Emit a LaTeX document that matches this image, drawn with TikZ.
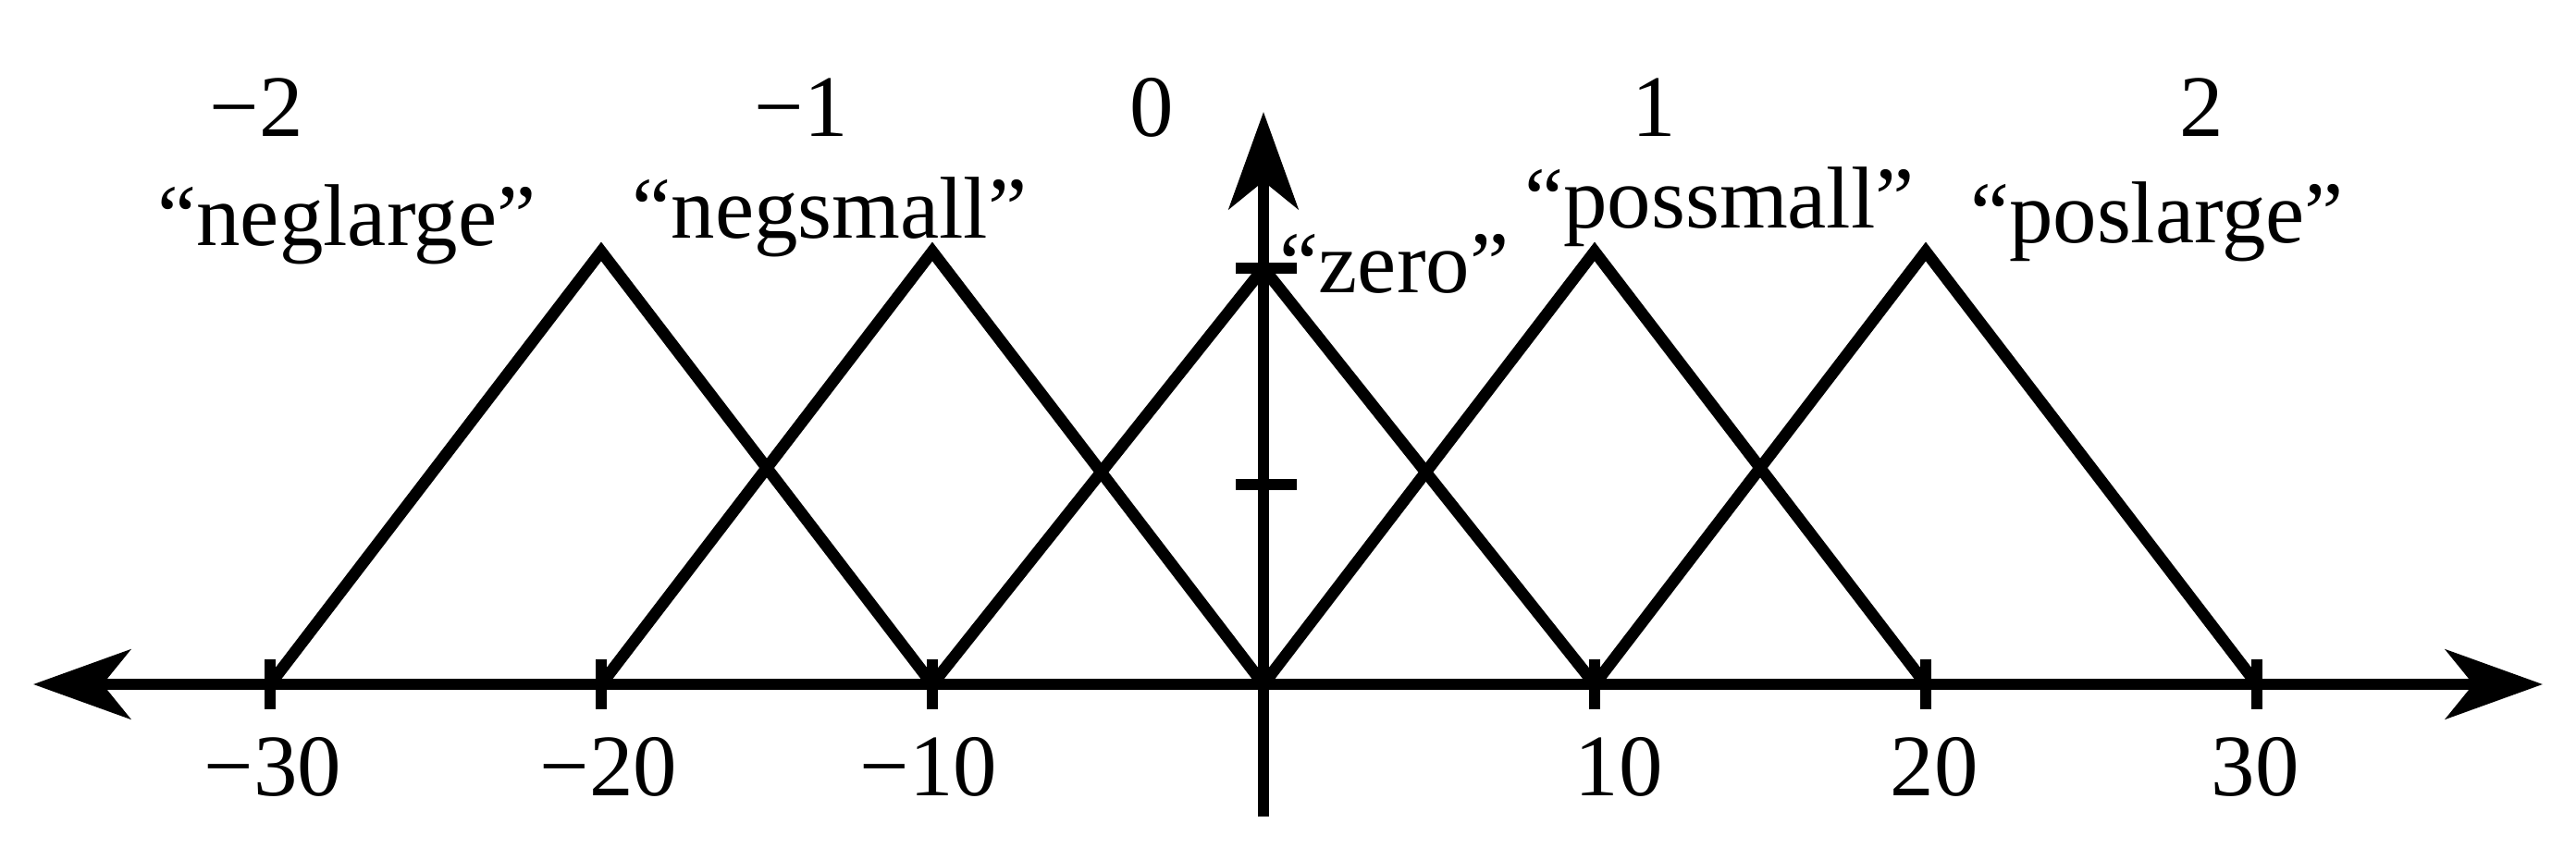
\documentclass[tikz,border=0pt]{standalone}
\usepackage{fontspec}
\setmainfont{Liberation Serif}
\usetikzlibrary{arrows.meta}
\begin{document}
\begin{tikzpicture}[x=1cm,y=1cm,
  lw/.style={line width=3.6pt},
  axis/.style={lw,-{Stealth[length=1.05cm,width=0.75cm,inset=0.3cm]}},
  lbl/.style={font=\fontsize{27}{30}\selectfont,inner sep=0pt,anchor=center}]
\useasboundingbox (-13.66,-1.89) rectangle (14.19,7.40);
% feet and peaks (x: 0.358cm per unit, y: 4.5cm per unit)
\foreach \v/\n in {-30/m30,-20/m20,-10/m10,0/z0,10/p10,20/p20,30/p30}
  \coordinate (\n) at ({\v*0.358},0);
\coordinate (pk1) at ({-20*0.358},4.68);
\coordinate (pk2) at ({-10*0.358},4.68);
\coordinate (pk3) at (0,4.50);
\coordinate (pk4) at ({10*0.358},4.68);
\coordinate (pk5) at ({20*0.358},4.68);
\coordinate (xl) at (-13.30,0);
\coordinate (xr) at (13.83,0);
\coordinate (yb) at (0,-1.43);
\coordinate (yt) at (0,6.19);
\draw[axis] (z0) -- (xl);
\draw[axis] (z0) -- (xr);
\draw[axis] (yb) -- (yt);
\foreach \n in {m30,m20,m10,p10,p20,p30}
  \draw[lw] ([yshift=-0.27cm]\n.center) -- ([yshift=0.27cm]\n.center);
\coordinate (t1) at (0,4.5);
\coordinate (t05) at (0,2.16);
\foreach \n in {t1,t05}
  \draw[lw] ([xshift=-0.3cm]\n) -- ([xshift=0.36cm]\n);
\draw[lw,line join=miter] (m30) -- (pk1) -- (m10);
\draw[lw,line join=miter] (m20) -- (pk2) -- (z0);
\draw[lw,line join=miter] (m10) -- (pk3) -- (p10);
\draw[lw,line join=miter] (z0) -- (pk4) -- (p20);
\draw[lw,line join=miter] (p10) -- (pk5) -- (p30);
% top numbers
\node[lbl] (n1) at (-10.89,6.24) {−2};
\node[lbl] (n2) at (-5.00,6.24) {−1};
\node[lbl] (n3) at (-1.21,6.24) {0};
\node[lbl] (n4) at (4.22,6.24) {1};
\node[lbl] (n5) at (10.14,6.24) {2};
% names
\node[lbl] (s1) at (-9.91,4.97) {“neglarge”};
\node[lbl] (s2) at (-4.69,5.05) {“negsmall”};
\node[lbl,anchor=west] (s3) at (0.17,4.55) {“zero”};
\node[lbl] (s4) at (4.93,5.16) {“possmall”};
\node[lbl] (s5) at (9.66,5.00) {“poslarge”};
% bottom numbers
\node[lbl] (b1) at (-10.71,-0.89) {−30};
\node[lbl] (b2) at (-7.08,-0.89) {−20};
\node[lbl] (b3) at (-3.62,-0.89) {−10};
\node[lbl] (b4) at (3.84,-0.89) {10};
\node[lbl] (b5) at (7.25,-0.89) {20};
\node[lbl] (b6) at (10.72,-0.89) {30};
\end{tikzpicture}
\end{document}
